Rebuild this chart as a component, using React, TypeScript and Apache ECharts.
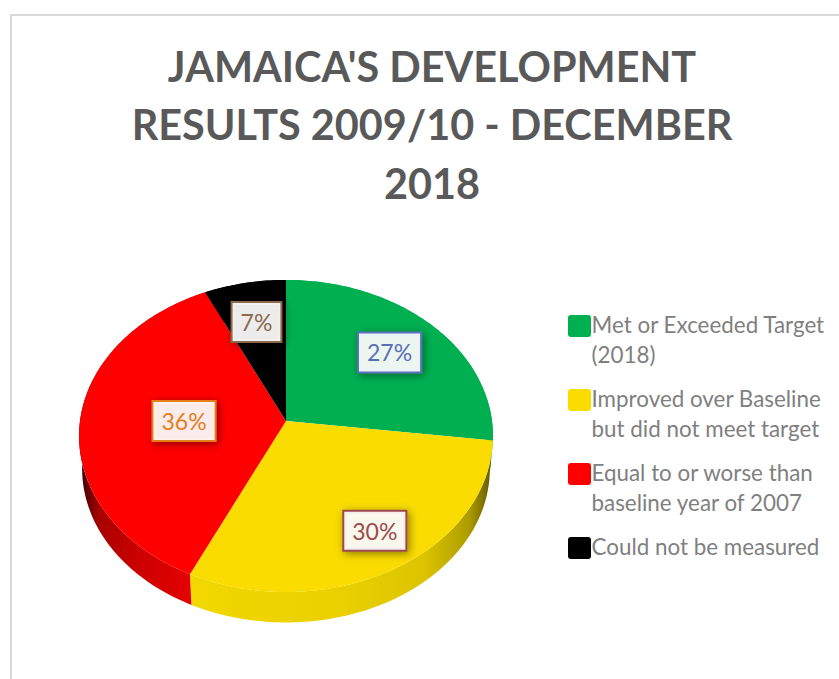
import React, { useEffect, useRef } from "react";
import * as echarts from "echarts";

const titleLines = ["JAMAICA'S DEVELOPMENT", "RESULTS 2009/10 - DECEMBER", "2018"];
const categories = [
  "Met or Exceeded Target\n(2018)",
  "Improved over Baseline\nbut did not meet target",
  "Equal to or worse than\nbaseline year of 2007",
  "Could not be measured",
];
const values = [27, 30, 36, 7];
const sliceColors = ["#00B050", "#FADC00", "#FF0000", "#000000"];
const labelInk = ["#5A6FB8", "#9C4A4F", "#E57F1E", "#8A6A4C"];
const labelFill = ["rgba(255,255,255,0.9)", "rgba(255,255,255,0.9)", "rgba(255,255,255,0.9)", "rgba(255,255,255,0.9)"];
const labelRadius = [0.7, 0.7, 0.495, 0.7];
const labelNudge = [[0, 0], [15, 9], [0, 0], [0, 0]];
const legendTops = [280.25, 354.25, 428.25, 531.75];
const swatchTops = [315, 389, 463, 537];

const total = values.reduce((a, b) => a + b, 0);
const FONT = "Lato, Carlito, sans-serif";
const apex = { x: 286, y: 421 };
const RX = 206;
const RY = 154.6;
const TILT = -0.096;
const DEPTH = 33;
const DEPTH_SCALE = 0.985;

function project(theta: number, f: number, scale = 1, drop = 0) {
  const u = Math.sin(theta) * f;
  const v = -Math.cos(theta) * f;
  const d = 1 + TILT * v;
  return [apex.x + (RX * scale * u) / d, apex.y + drop + (RY * scale * v) / d];
}

function wallFill(index: number) {
  const g = echarts.graphic.LinearGradient as any;
  if (index === 1) {
    return new g(190, 0, 490, 0, [
      { offset: 0, color: "#F2D800" },
      { offset: 0.5, color: "#EAD000" },
      { offset: 0.78, color: "#DCC400" },
      { offset: 0.93, color: "#AE9C00" },
      { offset: 1, color: "#6A5E00" },
    ], true);
  }
  if (index === 2) {
    return new g(82, 0, 195, 0, [
      { offset: 0, color: "#400000" },
      { offset: 0.15, color: "#A80000" },
      { offset: 0.5, color: "#CC0000" },
      { offset: 1, color: "#E60000" },
    ], true);
  }
  return sliceColors[index];
}

function makeRenderItem(index: number) {
  return () => {
    const before = values.slice(0, index).reduce((a, b) => a + b, 0);
    const start = (before / total) * Math.PI * 2;
    const end = ((before + values[index]) / total) * Math.PI * 2;
    const steps = Math.max(4, Math.ceil(((end - start) * 180) / Math.PI));
    const rim: number[][] = [];
    const low: number[][] = [];
    for (let i = 0; i <= steps; i++) {
      const t = start + ((end - start) * i) / steps;
      rim.push(project(t, 1));
      low.push(project(t, 1, DEPTH_SCALE, DEPTH));
    }
    const mid = (start + end) / 2;
    const at = project(mid, labelRadius[index]);
    const nudge = labelNudge[index];
    return {
      type: "group",
      children: [
        {
          type: "polygon",
          z2: 1,
          silent: true,
          shape: { points: [...rim, ...low.slice().reverse()] },
          style: { fill: wallFill(index) },
        },
        {
          type: "polygon",
          z2: 10,
          silent: true,
          shape: { points: [[apex.x, apex.y], ...rim] },
          style: { fill: sliceColors[index] },
        },
        {
          type: "text",
          z2: 20,
          silent: true,
          x: at[0] + nudge[0],
          y: at[1] + nudge[1],
          style: {
            text: `${values[index]}%`,
            fontFamily: FONT,
            fontSize: 23,
            fill: labelInk[index],
            align: "center",
            verticalAlign: "middle",
            backgroundColor: labelFill[index],
            borderColor: labelInk[index],
            borderWidth: 2,
            padding: [8, 8, 7, 8],
            shadowBlur: 8,
            shadowColor: "rgba(0,0,0,0.45)",
            shadowOffsetX: 2,
            shadowOffsetY: 2,
          },
        },
      ],
    };
  };
}

export default function App() {
  const ref = useRef<HTMLDivElement>(null);
  useEffect(() => {
    document.body.style.margin = "0";
    const chart = echarts.init(ref.current!, null, { renderer: "svg" });
    chart.setOption({
      animation: false,
      backgroundColor: "#FFFFFF",
      title: {
        text: titleLines.join("\n"),
        left: 432,
        top: 36.5,
        padding: 0,
        textAlign: "center",
        textStyle: {
          fontFamily: FONT,
          fontWeight: "bold",
          fontSize: 41.4,
          lineHeight: 58.5,
          color: "#595959",
        },
      },
      legend: categories.map((name, i) => ({
        data: [name],
        orient: "vertical",
        left: 569.5,
        top: legendTops[i],
        selectedMode: false,
        itemWidth: 17,
        itemHeight: 20,
        itemGap: 0,
        icon: "circle",
        padding: 0,
        formatter: (n: string) => (n.includes("\n") ? `\n${n}` : n),
        textStyle: {
          fontFamily: FONT,
          fontSize: 22.4,
          lineHeight: 29.5,
          color: "#7F7F7F",
        },
      })),
      graphic: [
        { type: "rect", silent: true, shape: { x: 10, y: 14, width: 829, height: 2 }, style: { fill: "#D9D9D9" } },
        { type: "rect", silent: true, shape: { x: 10, y: 14, width: 2, height: 665 }, style: { fill: "#D9D9D9" } },
        ...swatchTops.map((y, i) => ({
          type: "rect",
          silent: true,
          z: 100,
          shape: { x: 568, y, width: 23, height: 22, r: 3 },
          style: { fill: sliceColors[i] },
        })),
      ],
      series: categories.map((name, i) => ({
        type: "custom",
        name,
        coordinateSystem: "none",
        silent: true,
        itemStyle: { color: sliceColors[i] },
        data: [[values[i]]],
        renderItem: makeRenderItem(i),
      })),
    });
    return () => chart.dispose();
  }, []);
  return (
    <div
      ref={ref}
      style={{ position: "absolute", left: 0, top: 0, width: 839, height: 679, overflow: "hidden" }}
    />
  );
}
